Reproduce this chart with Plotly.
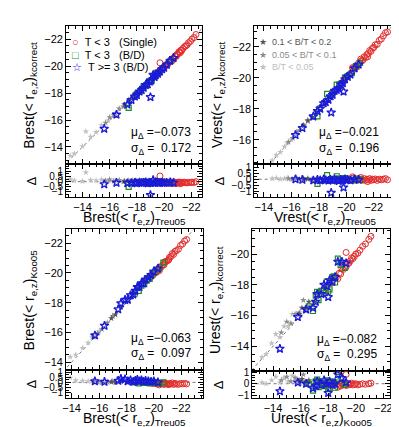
import plotly.graph_objects as go

# ---- data: x = first-catalogue magnitude, d = residual (x - y) ----
# panel 1 : Brest Treu05 vs kcorrect
b1_red_x = [-19.55, -19.7, -19.85, -19.95, -20.05, -20.1, -20.2, -20.25, -20.35, -20.4, -20.5, -20.55,
            -20.65, -20.7, -20.8, -20.85, -20.95, -21.0, -21.1, -21.15, -21.25, -21.3, -21.4, -21.5,
            -21.6, -21.7, -21.8, -21.95, -22.05, -22.2, -22.35, -20.6, -20.9, -21.2, -19.7]
b1_red_d = [-0.05, 0.02, -0.1, -0.05, -0.12, -0.02, -0.08, -0.15, -0.05, -0.1, -0.02, -0.12,
            -0.07, -0.15, -0.05, -0.1, -0.08, -0.12, -0.03, -0.1, -0.06, -0.14, -0.08, -0.05,
            -0.1, -0.12, -0.06, -0.1, -0.04, -0.08, 0.0, -0.2, -0.18, -0.2, 0.55]
b1_green_x = [-17.4, -18.0, -18.3, -18.5, -18.7, -18.9, -19.1, -19.3, -19.45, -19.6, -19.9, -20.2, -20.5]
b1_green_d = [-0.5, -0.05, -0.1, 0.0, -0.12, -0.05, -0.15, -0.08, 0.05, -0.1, -0.05, -0.1, -0.08]
b1_blue_x = [-15.6, -16.5, -17.3, -17.6, -17.85, -18.0, -18.2, -18.35, -18.5, -18.65, -18.8, -18.95,
             -19.05, -19.2, -19.3, -19.4, -19.55, -19.7, -19.85, -20.0, -20.2, -20.45, -20.7, -19.0]
b1_blue_d = [-0.25, -0.1, -0.15, -0.12, -0.1, -0.15, -0.08, -0.12, -0.1, -0.05, -0.15, -0.1,
             -0.12, 0.15, -0.1, -0.05, -0.12, -0.1, -0.08, -0.12, -0.1, -0.05, -0.1, -1.3]
b1_dark_x = [-17.1, -17.5, -17.9, -18.2, -18.6, -18.9, -19.2, -19.4]
b1_dark_d = [0.05, 0.0, 0.1, -0.05, 0.05, 0.1, 0.0, 0.15]
b1_mid_x = [-15.7, -16.0, -16.3, -16.7, -17.0, -17.4, -17.7, -18.1]
b1_mid_d = [0.1, 0.2, 0.05, 0.15, 0.0, 0.1, 0.1, 0.05]
b1_light_x = [-13.1, -13.4, -14.0, -14.25, -14.6, -15.0, -15.4, -15.9, -16.4]
b1_light_d = [0.25, 0.1, 0.05, 0.9, 0.15, 0.1, 0.2, 0.05, 0.1]

# panel 2 : Vrest Treu05 vs kcorrect
v_red_x = [-19.6, -19.8, -20.0, -20.2, -20.35, -20.5, -20.6, -20.7, -20.8, -20.9, -21.0, -21.1, -21.2,
           -21.3, -21.4, -21.5, -21.6, -21.7, -21.8, -21.9, -22.0, -22.1, -22.25, -22.4, -22.55,
           -22.7, -22.85, -23.0, -20.45, -21.05, -21.55]
v_red_d = [0.05, -0.05, 0.05, 0.0, -0.05, 0.1, -0.05, 0.0, -0.1, 0.05, -0.05, 0.0, -0.08,
           0.05, -0.1, 0.0, -0.05, 0.05, -0.1, 0.0, -0.05, 0.02, -0.1, 0.0, -0.05,
           0.0, 0.05, -0.05, 0.2, 0.15, -0.2]
v_green_x = [-17.9, -18.6, -19.0, -19.3, -19.5, -19.7, -19.9, -20.1, -20.4, -20.7, -21.0]
v_green_d = [-0.4, 0.35, 0.0, 0.25, 0.05, -0.05, 0.1, 0.0, -0.1, 0.05, -0.05]
v_blue_x = [-16.3, -16.8, -17.6, -17.9, -18.1, -18.35, -18.5, -18.7, -18.85, -19.0, -19.15,
            -19.3, -19.45, -19.6, -19.75, -19.9, -20.1, -20.3, -20.6, -20.9, -18.9, -19.8]
v_blue_d = [0.0, -0.05, -0.1, -0.05, -0.1, 0.0, -0.08, -0.12, -0.05, -0.1, 0.0,
            -0.08, -0.15, -0.05, -0.1, 0.0, -0.05, -0.1, 0.0, -0.05, -1.15, -0.7]
v_dark_x = [-16.9, -17.2, -17.5, -17.8, -18.1, -18.4]
v_dark_d = [0.0, 0.05, -0.05, 0.0, 0.05, 0.0]
v_mid_x = [-15.8, -16.1, -16.4, -16.6, -16.9, -17.2]
v_mid_d = [0.05, 0.0, 0.1, 0.0, 0.05, 0.0]
v_light_x = [-14.6, -14.9, -15.2, -15.5, -15.7, -16.0]
v_light_d = [0.05, 0.1, 0.0, 0.05, 0.1, 0.0]

# panel 3 : Brest Treu05 vs Koo05
b3_red_x = [-19.6, -19.8, -19.95, -20.1, -20.2, -20.3, -20.45, -20.55, -20.65, -20.75, -20.85, -20.95,
            -21.05, -21.15, -21.25, -21.35, -21.45, -21.55, -21.65, -21.8, -21.95, -22.1, -22.25,
            -22.4, -20.4, -20.8, -21.1]
b3_red_d = [0.0, -0.05, -0.1, -0.05, -0.15, -0.1, -0.05, -0.15, -0.1, -0.2, -0.1, -0.15,
            -0.2, -0.1, -0.15, -0.05, -0.2, -0.1, -0.15, -0.2, -0.1, -0.15, -0.1,
            -0.15, -0.25, -0.05, -0.2]
b3_green_x = [-18.6, -18.9, -19.1, -19.3, -19.5, -19.7, -19.9, -20.1, -20.4, -20.7]
b3_green_d = [0.0, -0.1, 0.05, -0.05, 0.0, -0.1, 0.05, -0.05, -0.1, 0.0]
b3_blue_x = [-15.7, -16.4, -17.4, -17.9, -18.1, -18.3, -18.5, -18.65, -18.8, -18.95, -19.1,
             -19.25, -19.4, -19.6, -19.8, -20.0, -20.3, -17.6]
b3_blue_d = [0.1, 0.05, 0.15, 0.3, 0.1, 0.2, 0.05, 0.15, 0.25, 0.1, 0.2,
             0.05, 0.15, 0.1, 0.05, 0.1, 0.0, 0.35]
b3_dark_x = [-16.9, -17.2, -17.6, -18.0, -18.4]
b3_dark_d = [0.05, 0.0, 0.1, 0.05, 0.0]
b3_mid_x = [-15.6, -15.9, -16.2, -16.6, -17.0]
b3_mid_d = [0.1, 0.05, 0.0, 0.05, 0.1]
b3_light_x = [-13.9, -14.3, -14.8, -15.2, -15.5, -16.0]
b3_light_d = [0.45, 0.2, 0.15, 0.1, 0.15, 0.05]

# panel 4 : Urest Koo05 vs kcorrect
u_red_x = [-17.6, -17.9, -18.1, -18.3, -18.5, -18.6, -18.8, -18.9, -19.0, -19.1, -19.2, -19.3, -19.4,
           -19.5, -19.6, -19.7, -19.8, -19.9, -20.0, -20.15, -20.3, -20.5, -20.7, -20.95, -21.1,
           -18.7, -19.3]
u_red_d = [0.0, -0.1, 0.05, -0.15, 0.0, -0.1, -0.05, -0.2, 0.05, -0.1, -0.05, -0.15, 0.0,
           -0.1, -0.05, 0.05, -0.1, -0.05, 0.0, -0.1, -0.05, 0.0, -0.05, 0.0, 0.05,
           -0.3, 0.8]
u_green_x = [-16.6, -16.9, -17.1, -17.3, -17.5, -17.7, -17.9, -18.1, -18.3, -18.5, -18.7, -18.9,
             -19.2, -17.2, -18.0, -18.4]
u_green_d = [0.0, -0.6, 0.2, -0.3, 0.1, -0.2, 0.3, -0.4, 0.2, -0.35, 1.0, 0.4,
             -0.1, 0.35, -0.45, 0.15]
u_blue_x = [-14.5, -15.8, -16.4, -16.9, -17.2, -17.5, -17.7, -17.9, -18.1, -18.3, -18.5, -18.7,
            -19.0, -19.3, -18.0, -17.1]
u_blue_d = [-0.65, 0.1, 0.0, -0.4, 0.2, -0.1, 0.3, 0.0, 0.2, -0.1, 0.0, 0.8,
            0.5, 0.1, -0.8, -0.2]
u_dark_x = [-15.9, -16.3, -16.6, -17.0, -17.3, -16.1]
u_dark_d = [0.2, 0.1, 0.3, -0.1, 0.2, 0.4]
u_mid_x = [-14.6, -15.0, -15.3, -15.6, -15.9, -16.2, -16.5]
u_mid_d = [0.3, 0.6, 0.2, 0.5, 0.3, 0.8, 0.1]
u_light_x = [-13.2, -13.5, -13.9, -14.2, -14.5, -14.8, -15.1, -15.4, -15.7, -16.0]
u_light_d = [0.1, 0.0, 0.3, 0.6, 0.1, 0.5, 0.2, 0.7, 0.4, 0.0]

stats = [("−0.073", "0.172"), ("−0.021", "0.196"), ("−0.063", "0.097"), ("−0.082", "0.295")]
one_to_one = [-11.0, -25.0]

W, H = 399, 427
FONT = "Liberation Sans, Arial, sans-serif"
RED, GREEN, BLUE = "#e42a2a", "#22882a", "#1a1ad8"
DARK, MID, LIGHT = "#555555", "#8c8c8c", "#c0c0c0"


def px(x):
    return x / W


def py(y):
    return 1 - y / H


styles = {
    "light": dict(symbol="star", size=5, color=LIGHT),
    "mid": dict(symbol="star", size=5, color=MID),
    "dark": dict(symbol="star", size=5, color=DARK),
    "red": dict(symbol="circle-open", size=6, color=RED, line=dict(width=1)),
    "green": dict(symbol="square-open", size=5, color=GREEN, line=dict(width=1.2)),
    "blue": dict(symbol="star-open", size=6.5, color=BLUE, line=dict(width=1.3)),
}


def sub_title(band, cat):
    return f"{band}rest(&lt; r<sub>e,z</sub>)<sub>{cat}</sub>"


panels = [
    dict(box=(55, 193, 14, 155, 188), xr=[-12.8, -22.8], yr=[-12.7, -23.0], rr=[-1.48, 1.67],
         xt=sub_title("B", "Treu05"), yt=sub_title("B", "kcorrect"), rt=[-1, -0.5, 0, 0.5, 1],
         series=[("light", b1_light_x, b1_light_d), ("mid", b1_mid_x, b1_mid_d),
                 ("dark", b1_dark_x, b1_dark_d), ("red", b1_red_x, b1_red_d),
                 ("green", b1_green_x, b1_green_d), ("blue", b1_blue_x, b1_blue_d)]),
    dict(box=(246, 391, 14, 155, 188), xr=[-13.3, -23.7], yr=[-14.4, -23.35], rr=[-1.5, 1.25],
         xt=sub_title("V", "Treu05"), yt=sub_title("V", "kcorrect"), rt=[-1, -0.5, 0, 0.5, 1],
         series=[("light", v_light_x, v_light_d), ("mid", v_mid_x, v_mid_d),
                 ("dark", v_dark_x, v_dark_d), ("red", v_red_x, v_red_d),
                 ("green", v_green_x, v_green_d), ("blue", v_blue_x, v_blue_d)]),
    dict(box=(55, 194, 221, 364, 392), xr=[-13.6, -23.6], yr=[-13.47, -22.93], rr=[-1.48, 1.2],
         xt=sub_title("B", "Treu05"), yt=sub_title("B", "Koo05"), rt=[-1, -0.5, 0, 0.5, 1],
         series=[("light", b3_light_x, b3_light_d), ("mid", b3_mid_x, b3_mid_d),
                 ("dark", b3_dark_x, b3_dark_d), ("red", b3_red_x, b3_red_d),
                 ("green", b3_green_x, b3_green_d), ("blue", b3_blue_x, b3_blue_d)]),
    dict(box=(244, 384, 221, 365, 392), xr=[-12.5, -22.5], yr=[-12.4, -21.6], rr=[-1.2, 1.1],
         xt=sub_title("U", "Koo05"), yt=sub_title("U", "kcorrect"), rt=[-1, 0, 1],
         series=[("light", u_light_x, u_light_d), ("mid", u_mid_x, u_mid_d),
                 ("dark", u_dark_x, u_dark_d), ("red", u_red_x, u_red_d),
                 ("green", u_green_x, u_green_d), ("blue", u_blue_x, u_blue_d)]),
]


def frame(domain, rng, anchor, dtick, minor, labels, size=11, **kw):
    ax = dict(domain=domain, range=rng, anchor=anchor, showline=True, linecolor="black", linewidth=1,
              mirror="allticks", ticks="inside", ticklen=5, tickcolor="black", tickwidth=1,
              minor=dict(ticks="inside", ticklen=3, dtick=minor, tickcolor="black"),
              dtick=dtick, tick0=0, showgrid=False, zeroline=False, showticklabels=labels,
              tickfont=dict(size=size, color="black", family=FONT))
    ax.update(kw)
    return ax


fig = go.Figure()
layout = {}
annotations = []

for i, p in enumerate(panels):
    left, right, top, split, bottom = p["box"]
    km, kr = 2 * i + 1, 2 * i + 2
    xm, ym = ("x", "y") if km == 1 else (f"x{km}", f"y{km}")
    xr, yr = f"x{kr}", f"y{kr}"
    xdom = [px(left), px(right)]

    layout["xaxis" if km == 1 else f"xaxis{km}"] = frame(xdom, p["xr"], ym, 2, 0.5, False)
    layout["yaxis" if km == 1 else f"yaxis{km}"] = frame([py(split), py(top)], p["yr"], xm, 2, 0.5, True)
    layout[f"xaxis{kr}"] = frame(xdom, p["xr"], yr, 2, 0.5, True)
    layout[f"yaxis{kr}"] = frame([py(bottom), py(split)], p["rr"], xr, None, 0.25, True, size=10,
                                 tickmode="array", tickvals=p["rt"],
                                 ticktext=[f"{v:g}".replace("-", "−") for v in p["rt"]])

    # 1:1 line and zero line
    fig.add_trace(go.Scatter(x=one_to_one, y=one_to_one, mode="lines", xaxis=xm, yaxis=ym,
                             line=dict(color="#777", width=1, dash="dot"), showlegend=False))
    fig.add_trace(go.Scatter(x=one_to_one, y=[0, 0], mode="lines", xaxis=xr, yaxis=yr,
                             line=dict(color="#777", width=1, dash="dot"), showlegend=False))

    for name, xs, ds in p["series"]:
        ys = [x - d for x, d in zip(xs, ds)]
        fig.add_trace(go.Scatter(x=xs, y=ys, mode="markers", marker=styles[name],
                                 xaxis=xm, yaxis=ym, showlegend=False, hoverinfo="skip"))
        fig.add_trace(go.Scatter(x=xs, y=ds, mode="markers", marker=styles[name],
                                 xaxis=xr, yaxis=yr, showlegend=False, hoverinfo="skip"))

    # axis titles
    annotations.append(dict(text=p["xt"], x=px((left + right) / 2), y=py(bottom + 32), xref="paper",
                            yref="paper", showarrow=False, xanchor="center", yanchor="bottom",
                            borderpad=0, font=dict(size=14, family=FONT, color="black")))
    annotations.append(dict(text=p["yt"], x=px(left - 37), y=py((top + split) / 2), xref="paper",
                            yref="paper", showarrow=False, textangle=-90, xanchor="center",
                            yanchor="middle", font=dict(size=14, family=FONT, color="black")))
    annotations.append(dict(text="Δ", x=px(left - 35), y=py((split + bottom) / 2), xref="paper",
                            yref="paper", showarrow=False, textangle=-90, xanchor="center",
                            yanchor="middle", font=dict(size=13, family=FONT, color="black")))

    mu, sig = stats[i]
    for j, txt in enumerate([f"μ<sub>Δ</sub> ={mu}", f"σ<sub>Δ</sub> =  {sig}"]):
        annotations.append(dict(text=txt, x=px(left + 64), y=py(split - 32 + j * 16), xref="paper",
                                yref="paper", showarrow=False, xanchor="left", yanchor="middle",
                                font=dict(size=12, family=FONT, color="black")))

# legends
leg1 = [("○", RED, "T &lt; 3\u00a0\u00a0\u00a0(Single)"),
        ("□", GREEN, "T &lt; 3\u00a0\u00a0\u00a0(B/D)"),
        ("☆", BLUE, "T &gt;= 3\u00a0(B/D)")]
for j, (sym, col, lab) in enumerate(leg1):
    annotations.append(dict(text=f'<span style="color:{col}">{sym}</span>\u00a0\u00a0{lab}',
                            x=px(59), y=py(31 + j * 12.5), xref="paper", yref="paper", showarrow=False,
                            xanchor="left", yanchor="middle", font=dict(size=11, family=FONT, color="black")))
leg2 = [(DARK, "0.1 &lt; B/T &lt; 0.2"), (MID, "0.05 &lt; B/T &lt; 0.1"), (LIGHT, "B/T &lt; 0.05")]
for j, (col, lab) in enumerate(leg2):
    annotations.append(dict(text=f"★\u00a0\u00a0{lab}", x=px(249), y=py(31 + j * 12.5), xref="paper",
                            yref="paper", showarrow=False, xanchor="left", yanchor="middle",
                            font=dict(size=9, family=FONT, color=col)))

fig.update_layout(**layout)
fig.update_layout(width=W, height=H, margin=dict(l=0, r=0, t=0, b=0), plot_bgcolor="white",
                  paper_bgcolor="white", annotations=annotations, showlegend=False)
fig.write_html("out.html")
